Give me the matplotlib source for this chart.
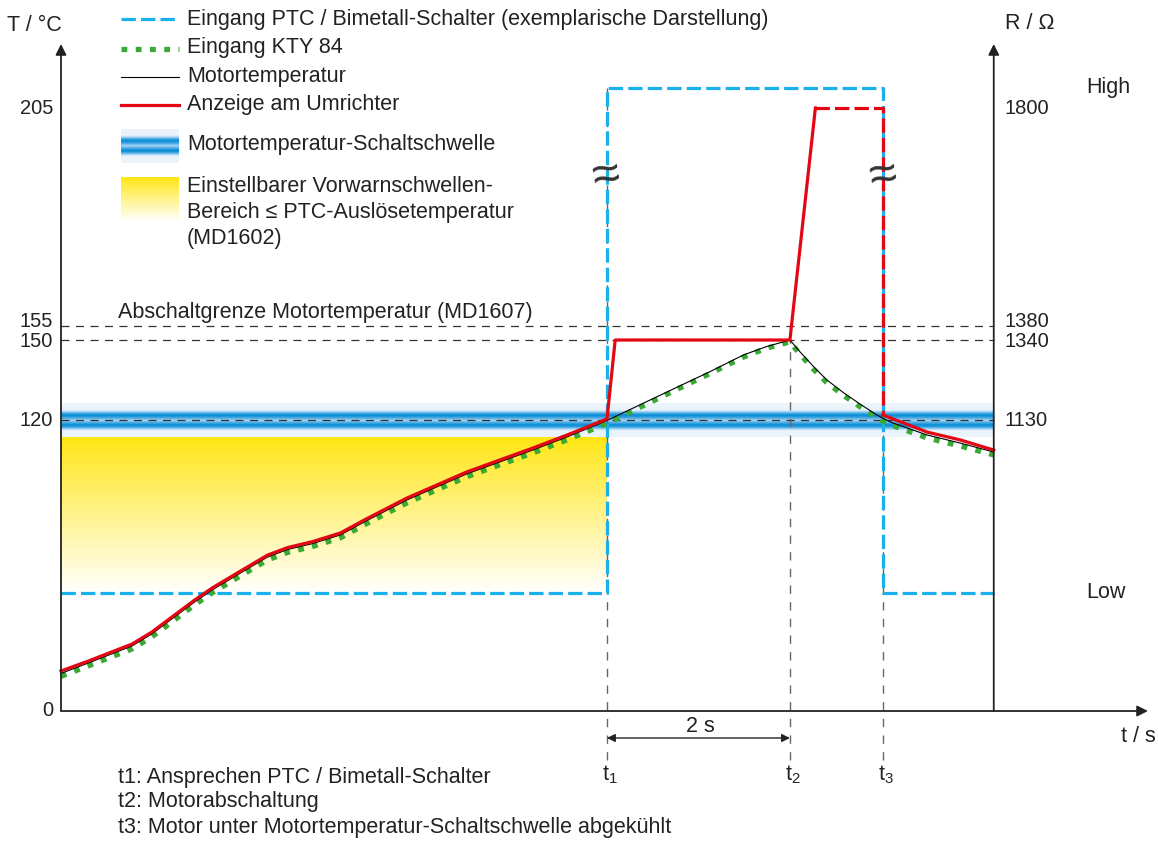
import numpy as np
import matplotlib.pyplot as plt
from matplotlib.colors import to_rgb

plt.rcParams['font.family'] = ['Liberation Sans', 'DejaVu Sans']
plt.rcParams['mathtext.fontset'] = 'custom'
plt.rcParams['mathtext.rm'] = 'Liberation Sans'
plt.rcParams['mathtext.it'] = 'Liberation Sans'

#%% Daten (t in s, T in °C)

t_motor = [0, 0.30, 0.78, 1.0, 1.22, 1.47, 1.66, 1.99, 2.27, 2.49, 2.76, 3.07, 3.36, 3.80, 4.46, 5.19, 5.56, 6.0,
           6.40, 6.77, 7.13, 7.50, 7.75, 8.01,
           8.12, 8.27, 8.41, 8.60, 8.78, 8.96, 9.05, 9.14, 9.52, 9.88, 10.25]
T_motor = [15.5, 19.8, 26.8, 31.8, 38.0, 45.0, 49.9, 57.3, 63.5, 66.6, 69.0, 72.6, 78.5, 87.0, 97.8, 107.7, 113.0, 119.8,
           126.3, 132.3, 138.1, 144.4, 147.5, 150.0,
           145.6, 140.0, 135.2, 130.2, 126.0, 122.0, 120.3, 118.8, 113.8, 110.5, 106.8]
T_kty = [14.3, 18.6, 25.6, 30.6, 36.8, 43.8, 48.7, 56.1, 62.3, 65.4, 67.8, 71.4, 77.3, 85.8, 96.6, 106.5, 111.8, 118.6,
         125.4, 131.5, 137.4, 143.6, 146.9, 149.3,
         144.7, 139.0, 134.2, 129.2, 125.0, 121.1, 119.2, 117.7, 112.6, 109.3, 105.6]

# Anzeige am Umrichter: bis t2 / Abschnitt gestrichelt / nach t3
t_anz = [0, 0.30, 0.78, 1.0, 1.22, 1.47, 1.66, 1.99, 2.27, 2.49, 2.76, 3.07, 3.36, 3.80, 4.46, 5.19, 5.56, 6.0,
         6.09, 8.01, 8.29]
T_anz = [16.5, 20.6, 27.6, 32.6, 38.8, 45.8, 50.7, 58.1, 64.3, 67.4, 69.8, 73.4, 79.3, 87.8, 98.6, 108.5, 113.8, 120.4,
         150, 150, 205]
t_anz_gestr = [8.29, 9.03, 9.03]
T_anz_gestr = [205, 205, 121.9]
t_anz_nach = [9.03, 9.52, 9.88, 10.25]
T_anz_nach = [121.9, 115.0, 111.8, 107.6]

# PTC / Bimetall
t_ptc = [0, 6.0, 6.0, 9.03, 9.03, 10.25]
ptc_zustand = ['Low', 'Low', 'High', 'High', 'Low', 'Low']
ptc_pegel = {'Low': 48.7, 'High': 209.6}

t1, t2, t3 = 6.0, 8.01, 9.03
t_ende = 10.25
T_grenzen = [155, 150, 120]
T_ticks = [0, 120, 150, 155, 205]
R_ticks = [1130, 1340, 1380, 1800]
R_ticks_T = [120, 150, 155, 205]

#%% Achsen (schematische, stückweise lineare T-Achse)

T_anker = np.array([-100, 0, 120, 150, 155, 205, 300])
y_anker = 841 - np.array([953.5, 711, 420, 340, 326, 108, -306.2])

def fwd(T):
    return np.interp(T, T_anker, y_anker)

def inv(h):
    return np.interp(h, y_anker, T_anker)

def px_t(x):
    return (x - 61) / 91.0

def py_T(y):
    return float(inv(841 - y))

def T_py(T):
    return float(841 - fwd(T))

fig = plt.figure(figsize=(11.58, 8.41), dpi=100)
ax = fig.add_axes([0, 0, 1, 1])
ax.set_yscale('function', functions=(fwd, inv))
ax.set_xlim(px_t(0), px_t(1158))
ax.set_ylim(py_T(841), py_T(0))
ax.axis('off')

fs = 15.5
fs_zahl = 14.5
txtc = '#222222'

def txt(x, y, s, **kw):
    kw.setdefault('fontsize', fs)
    kw.setdefault('color', txtc)
    kw.setdefault('va', 'center')
    return ax.text(px_t(x), py_T(y), s, **kw)

#%% Schaltschwelle (blaues Band) und Vorwarnbereich (gelb)

band_d = [0, 2, 4.5, 6, 8, 9.5, 10.5, 17]
band_c = ['#A6D3F1', '#58B0E5', '#0A8DD6', '#1A97DA', '#7FC1EC', '#CFE6F7', '#E8F2FA', '#EDF4FB']
band_rgb = np.array([to_rgb(c) for c in band_c])

def band(x0, x1, yc):
    for d in np.arange(-17, 17, 0.5):
        dm = abs(d + 0.25)
        col = [np.interp(dm, band_d, band_rgb[:, k]) for k in range(3)]
        ax.fill_between([px_t(x0), px_t(x1)], py_T(yc + d), py_T(yc + d + 0.5),
                        color=col, lw=0, zorder=1)

def gelb(x0, x1, ytop, ybot):
    gelb_rgb = np.array(to_rgb('#FFE512'))
    n = int(ybot - ytop)
    for i in range(n):
        f = (i / n) ** 0.95
        col = gelb_rgb * (1 - f) + np.ones(3) * f
        ax.fill_between([px_t(x0), px_t(x1)], py_T(ytop + i), py_T(ytop + i + 1.2),
                        color=col, lw=0, zorder=1)

band(61, 994, 420)
gelb(61, 607, 437, 593)

#%% Hilfslinien

for T in T_grenzen:
    ax.plot([0, t_ende], [T, T], color='#333333', lw=0.9, ls=(0, (6.4, 5.2)), zorder=2)
for tt, Ttop in zip([t1, t2, t3], [209.6, 150, 205]):
    ax.plot([tt, tt], [py_T(760), Ttop], color='#666666', lw=1.0, ls=(0, (6, 6)), zorder=2)

#%% Kurven

blau = '#1AB0EC'
gruen = '#3AAA35'
rot = '#E30613'
ls_gestr = (0, (4.5, 1.6))
ls_kty = (0, (1.1, 1.6))

ax.plot(t_ptc, [ptc_pegel[z] for z in ptc_zustand], color=blau, lw=2.3, ls=ls_gestr, zorder=3)
ax.plot(t_motor, T_kty, color=gruen, lw=3.8, ls=ls_kty, dash_capstyle='butt', zorder=4)
ax.plot(t_motor, T_motor, color='k', lw=0.8, zorder=5)
ax.plot(t_anz, T_anz, color=rot, lw=2.3, zorder=6)
ax.plot(t_anz_gestr, T_anz_gestr, color=rot, lw=2.3, ls=ls_gestr, zorder=6)
ax.plot(t_anz_nach, T_anz_nach, color=rot, lw=2.3, zorder=6)

# Unterbrechungszeichen
for x in [606, 883]:
    txt(x, 177, '≈', fontsize=36, ha='center', rotation=10, color='#333333', zorder=7)

#%% Achsen mit Pfeilen

pfeil = dict(arrowstyle='-|>', color=txtc, lw=1.3, mutation_scale=16, shrinkA=0, shrinkB=0)
ax.annotate('', xy=(0, py_T(44)), xytext=(0, 0), arrowprops=pfeil, zorder=8)
ax.annotate('', xy=(t_ende, py_T(44)), xytext=(t_ende, 0), arrowprops=pfeil, zorder=8)
ax.annotate('', xy=(px_t(1148), 0), xytext=(0, 0), arrowprops=pfeil, zorder=8)

txt(7, 25, 'T / °C', ha='left')
txt(1005, 23, 'R / Ω', ha='left')
txt(1121, 737, 't / s', ha='left')

# Beschriftung leicht auseinander gezogen (155/150 und 1380/1340 liegen dicht)
versatz = {155: -5, 150: 1}
for T in T_ticks:
    dy = versatz.get(T, 0)
    ax.text(px_t(53), py_T(T_py(T) + dy), str(T), ha='right', va='center', fontsize=fs_zahl, color=txtc)
for R, T in zip(R_ticks, R_ticks_T):
    dy = versatz.get(T, 0)
    ax.text(px_t(1004), py_T(T_py(T) + dy), str(R), ha='left', va='center', fontsize=fs_zahl, color=txtc)
ax.text(px_t(1086), ptc_pegel['High'], 'High', ha='left', va='center', fontsize=fs, color=txtc)
ax.text(px_t(1086), ptc_pegel['Low'], 'Low', ha='left', va='center', fontsize=fs, color=txtc)

txt(118, 312, 'Abschaltgrenze Motortemperatur (MD1607)', ha='left')

#%% Zeitmarken

ax.annotate('', xy=(t1, py_T(738)), xytext=(t2, py_T(738)),
            arrowprops=dict(arrowstyle='<|-|>', color=txtc, lw=1.0, mutation_scale=12,
                            shrinkA=0, shrinkB=0))
txt(700, 726, '2 s', ha='center')
for tt, s in zip([t1, t2, t3], ['t$_1$', 't$_2$', 't$_3$']):
    ax.text(tt + px_t(64), py_T(775), s, ha='center', va='center', fontsize=fs, color=txtc)

txt(118, 777, 't1: Ansprechen PTC / Bimetall-Schalter', ha='left')
txt(118, 802, 't2: Motorabschaltung', ha='left')
txt(118, 827, 't3: Motor unter Motortemperatur-Schaltschwelle abgekühlt', ha='left')

#%% Legende

lx0, lx1 = 121, 179
ax.plot([px_t(lx0), px_t(lx1)], [py_T(19)] * 2, color=blau, lw=2.3, ls=ls_gestr)
ax.plot([px_t(lx0), px_t(lx1)], [py_T(49)] * 2, color=gruen, lw=3.8, ls=ls_kty, dash_capstyle='butt')
ax.plot([px_t(lx0), px_t(lx1)], [py_T(77)] * 2, color='k', lw=0.8)
ax.plot([px_t(lx0), px_t(lx1)], [py_T(105)] * 2, color=rot, lw=2.3)
band(lx0, lx1, 145.5)
gelb(lx0, lx1, 177, 221)

txt(187, 19, 'Eingang PTC / Bimetall-Schalter (exemplarische Darstellung)', ha='left')
txt(187, 47, 'Eingang KTY 84', ha='left')
txt(187, 76, 'Motortemperatur', ha='left')
txt(187, 104, 'Anzeige am Umrichter', ha='left')
txt(187, 144, 'Motortemperatur-Schaltschwelle', ha='left')
txt(187, 186, 'Einstellbarer Vorwarnschwellen-', ha='left')
txt(187, 212, 'Bereich ≤ PTC-Auslösetemperatur', ha='left')
txt(187, 238, '(MD1602)', ha='left')

fig.savefig('out.png', dpi=100)
